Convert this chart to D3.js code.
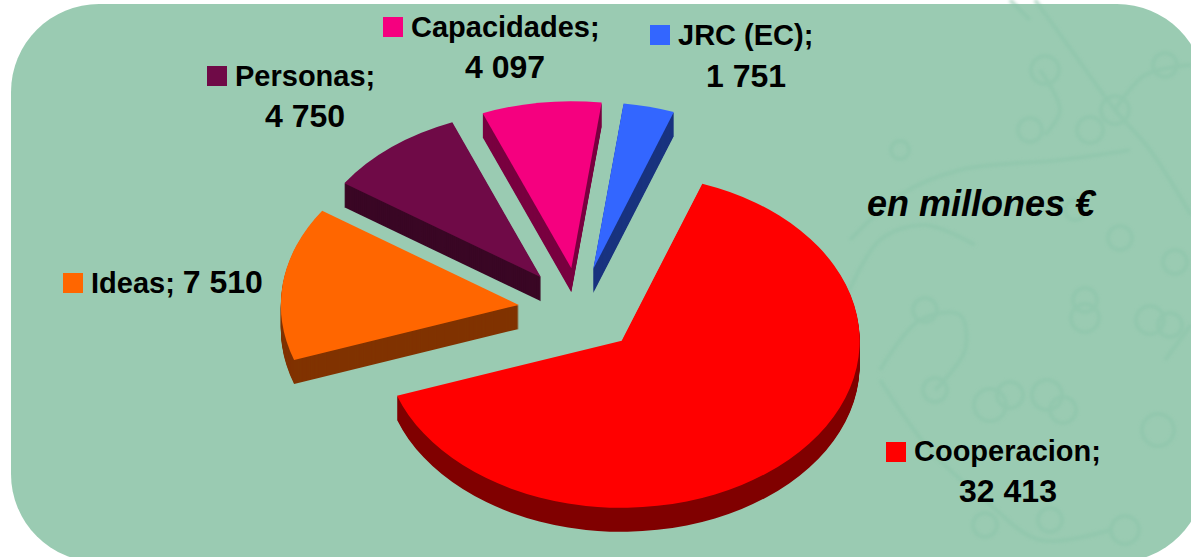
<!DOCTYPE html>
<html>
<head>
    <meta charset="utf-8">
    <title>Presupuesto</title>
    <script src="https://d3js.org/d3.v7.min.js"></script>
    <style>
        html, body { margin: 0; padding: 0; background: #fff; overflow: hidden; }
        text { font-family: "Liberation Sans", Arial, sans-serif; font-weight: bold; fill: #000; }
    </style>
</head>
<body>
    <svg id="chart" width="1191" height="557"></svg>
    <script>
        // values, in millions of euro
        const categories = ["Cooperacion", "Ideas", "Personas", "Capacidades", "JRC (EC)"];
        const values = [32413, 7510, 4750, 4097, 1751];
        const valueLabels = ["32 413", "7 510", "4 750", "4 097", "1 751"];
        const topColors = ["#ff0000", "#ff6600", "#6f0a47", "#f5007f", "#3366ff"];
        const wallColors = ["#800000", "#803300", "#3a0725", "#7a0040", "#19337f"];

        // faint molecule picture behind the chart
        const bgLines = [
            [[1035, 0], [1075, 55], [1115, 110], [1150, 150], [1191, 215]],
            [[1115, 110], [1145, 75], [1191, 65]],
            [[1040, 70], [1060, 110], [1045, 135]],
            [[850, 240], [900, 195], [960, 170], [1060, 160], [1130, 150]],
            [[845, 300], [880, 240], [925, 225], [975, 245]],
            [[880, 370], [920, 320], [960, 315], [965, 350], [935, 390]],
            [[880, 380], [930, 450], [985, 500], [1040, 540], [1110, 530]],
            [[1010, 0], [1030, 20]],
            [[1165, 360], [1191, 325]]
        ];
        const bgRings = [
            [1045, 70, 14], [1090, 130, 13], [1115, 110, 14], [1165, 65, 12],
            [1030, 130, 12], [1075, 210, 10], [900, 150, 9], [1120, 238, 12], [1175, 262, 12],
            [925, 310, 12], [935, 390, 12], [990, 405, 16], [1010, 395, 13], [1047, 395, 15],
            [1063, 410, 13], [1085, 318, 14], [1150, 320, 14], [1170, 325, 12], [1158, 430, 16],
            [985, 525, 12], [1050, 520, 12], [1125, 530, 14], [1085, 300, 12]
        ];

        const svg = d3.select("#chart");

        const blur = svg.append("defs").append("filter").attr("id", "soft");
        blur.append("feGaussianBlur").attr("stdDeviation", 1.6);

        // background
        svg.append("rect")
            .attr("x", 11).attr("y", 4)
            .attr("width", 1194).attr("height", 558)
            .attr("rx", 88).attr("ry", 88)
            .attr("fill", "#9acbb2");

        const bg = svg.append("g")
            .attr("fill", "none")
            .attr("stroke", "#8cc5aa")
            .attr("stroke-width", 4)
            .attr("opacity", 0.55)
            .attr("filter", "url(#soft)");
        const bgLine = d3.line().curve(d3.curveCatmullRom);
        bg.selectAll("path").data(bgLines).join("path")
            .attr("d", bgLine);
        bg.selectAll("circle").data(bgRings).join("circle")
            .attr("cx", d => d[0]).attr("cy", d => d[1]).attr("r", d => d[2]);

        // pie, tilted: the flat pie is squashed vertically
        const cx = 579, cy = 310.5, rx = 238, ry = 167, depth = 24, explode = 0.255;
        const start = 19.8 * Math.PI / 180;
        const squash = ry / rx;

        const pie = d3.pie().sort(null).startAngle(start).endAngle(start + 2 * Math.PI);
        const arc = d3.arc().innerRadius(0).outerRadius(rx);
        const slices = pie(values);

        function shift(d) {
            const mid = (d.startAngle + d.endAngle) / 2;
            return [rx * explode * Math.sin(mid), -ry * explode * Math.cos(mid)];
        }

        const sliceG = svg.selectAll("g.slice").data(slices).join("g")
            .attr("class", "slice");

        // side walls: the slice shape stacked downward
        sliceG.each(function (d, i) {
            const s = shift(d);
            const g = d3.select(this);
            for (let k = depth; k >= 1; k--) {
                g.append("path")
                    .attr("d", arc(d))
                    .attr("fill", wallColors[i])
                    .attr("transform", `translate(${cx + s[0]},${cy + s[1] + k}) scale(1,${squash})`);
            }
            g.append("path")
                .attr("d", arc(d))
                .attr("fill", topColors[i])
                .attr("transform", `translate(${cx + s[0]},${cy + s[1]}) scale(1,${squash})`);
        });

        // labels: [marker x, name baseline, value centre, value baseline]
        const labelPos = [
            [886, 461, 1008, 502],
            [63, 293, null, null],
            [207, 86, 305, 127],
            [383, 37, 505, 78],
            [650, 45, 746, 87]
        ];
        const nameSize = 29, valueSize = 32;

        categories.forEach((name, i) => {
            const p = labelPos[i];
            svg.append("rect")
                .attr("x", p[0]).attr("y", p[1] - 20 + (i === 0 ? 1 : 0))
                .attr("width", 20).attr("height", 20)
                .attr("fill", topColors[i]);
            const label = svg.append("text")
                .attr("x", p[0] + 28).attr("y", p[1])
                .attr("font-size", nameSize)
                .text(`${name};`);
            if (p[2] === null) {
                // short label stays on one line
                label.append("tspan")
                    .attr("dx", 8)
                    .attr("font-size", valueSize)
                    .text(valueLabels[i]);
            } else {
                svg.append("text")
                    .attr("x", p[2]).attr("y", p[3])
                    .attr("text-anchor", "middle")
                    .attr("font-size", valueSize)
                    .text(valueLabels[i]);
            }
        });

        svg.append("text")
            .attr("x", 867).attr("y", 216)
            .attr("font-size", 36)
            .attr("font-style", "italic")
            .text("en millones €");
    </script>
</body>
</html>
